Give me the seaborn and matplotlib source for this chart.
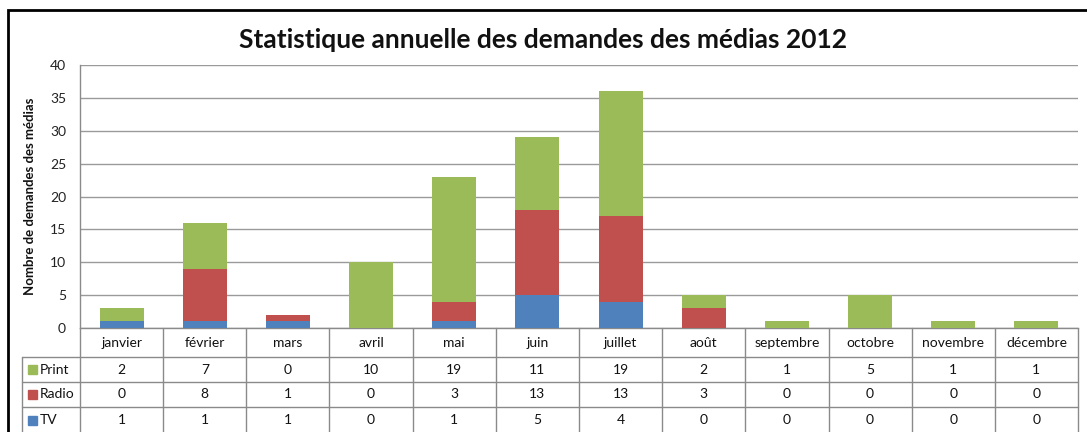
import pandas as pd
import seaborn as sns
import matplotlib.pyplot as plt
from matplotlib.lines import Line2D
from matplotlib.patches import Rectangle
from matplotlib.transforms import blended_transform_factory

months = ['janvier', 'février', 'mars', 'avril', 'mai', 'juin', 'juillet',
          'août', 'septembre', 'octobre', 'novembre', 'décembre']
print_vals = [2, 7, 0, 10, 19, 11, 19, 2, 1, 5, 1, 1]
radio_vals = [0, 8, 1, 0, 3, 13, 13, 3, 0, 0, 0, 0]
tv_vals = [1, 1, 1, 0, 1, 5, 4, 0, 0, 0, 0, 0]

series = ['Print', 'Radio', 'TV']
colors = {'Print': '#9BBB59', 'Radio': '#C0504D', 'TV': '#4F81BD'}

W, H = 1087, 432


def fx(px):
    return px / W


def fy(py):
    return 1 - py / H


df = pd.DataFrame({'mois': months, 'Print': print_vals,
                   'Radio': radio_vals, 'TV': tv_vals})
df['tv_top'] = df['TV']
df['radio_top'] = df['TV'] + df['Radio']
df['print_top'] = df['radio_top'] + df['Print']

sns.set_style('white')
plt.rcParams['font.family'] = ['Lato', 'DejaVu Sans']

fig = plt.figure(figsize=(W / 100, H / 100), dpi=100)
ax = fig.add_axes([fx(80), fy(328), fx(1078) - fx(80), (328 - 65) / H])

# stacked bars: draw cumulative totals from the top layer down
for col, name in [('print_top', 'Print'), ('radio_top', 'Radio'), ('tv_top', 'TV')]:
    sns.barplot(data=df, x='mois', y=col, color=colors[name], saturation=1,
                width=0.53, order=months, ax=ax, zorder=3, linewidth=0)

ax.set_xlim(-0.5, len(months) - 0.5)
ax.set_ylim(0, 40)
ax.set_yticks(range(0, 41, 5))
ax.yaxis.grid(True, color='#9a9a9a', lw=1)
ax.set_axisbelow(True)
ax.set_xlabel('')
ax.set_ylabel('')
ax.set_xticks([])
ax.tick_params(axis='y', length=0, pad=10, labelsize=10, labelcolor='#222222')
for s in ['top', 'right']:
    ax.spines[s].set_visible(False)
for s in ['left', 'bottom']:
    ax.spines[s].set_color('#8a8a8a')
    ax.spines[s].set_linewidth(1)

# data table below the plot
tr = blended_transform_factory(ax.transData, fig.transFigure)
line_col = '#8a8a8a'
rows_y = [328, 357, 382, 407, 433]

for i in range(len(months) + 1):
    fig.add_artist(Line2D([i - 0.5, i - 0.5], [fy(328), fy(440)],
                          transform=tr, color=line_col, lw=1))
fig.add_artist(Line2D([fx(22), fx(22)], [fy(357), fy(440)],
                      transform=fig.transFigure, color=line_col, lw=1))
for y in rows_y[1:]:
    fig.add_artist(Line2D([fx(22), fx(1078)], [fy(y), fy(y)],
                          transform=fig.transFigure, color=line_col, lw=1))

for i, m in enumerate(months):
    fig.text(i, fy(343), m, transform=tr, ha='center', va='center',
             fontsize=10, color='#111111')

for r, name in enumerate(series):
    yc = (rows_y[r + 1] + rows_y[r + 2]) / 2
    fig.add_artist(Rectangle((fx(28), fy(yc + 4.5)), 9 / W, 9 / H,
                             transform=fig.transFigure, color=colors[name]))
    fig.text(fx(40), fy(yc), name, ha='left', va='center', fontsize=10,
             color='#111111')
    vals = df[name].tolist()
    for i, v in enumerate(vals):
        fig.text(i, fy(yc), str(v), transform=tr, ha='center', va='center',
                 fontsize=10, color='#111111')

fig.text(0.5, fy(40), 'Statistique annuelle des demandes des médias 2012',
         ha='center', va='center', fontsize=19, fontweight='bold',
         color='#111111')
fig.text(fx(30), fy(196), 'Nombre de demandes des médias', rotation=90,
         ha='center', va='center', fontsize=9.5, fontweight='bold',
         color='#111111')

# outer chart border (cropped at right and bottom in the original)
fig.add_artist(Rectangle((fx(8), fy(445)), 1090 / W, 435 / H,
                         transform=fig.transFigure, fill=False,
                         ec='black', lw=2))

fig.savefig('out.png', dpi=100)
